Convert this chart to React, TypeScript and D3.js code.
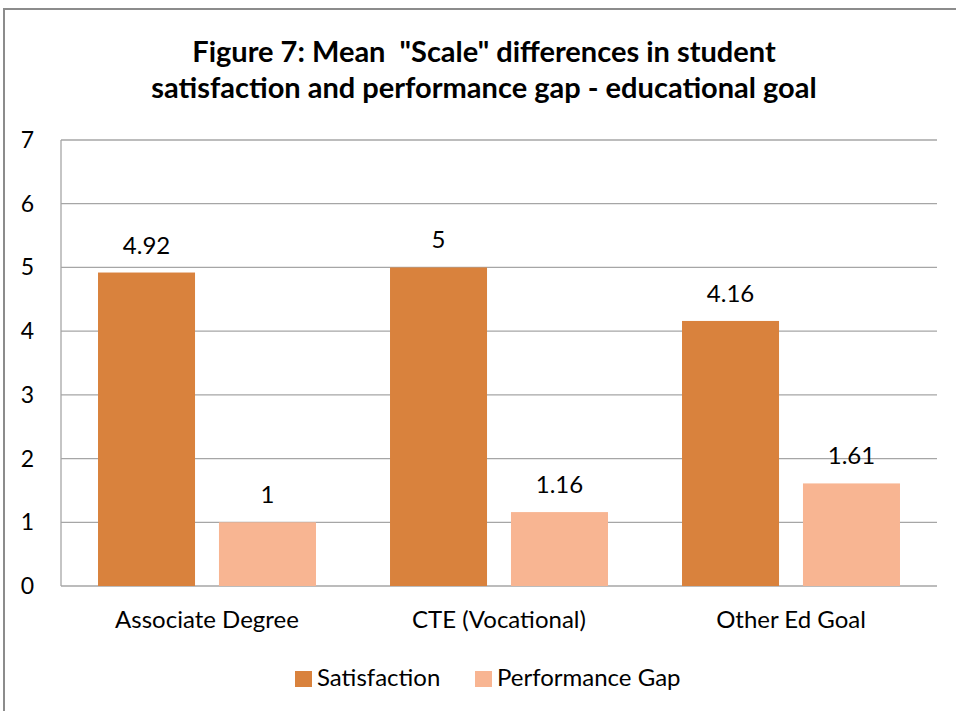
import React from "react";
import * as d3 from "d3";

const categories = ["Associate Degree", "CTE (Vocational)", "Other Ed Goal"];
const seriesNames = ["Satisfaction", "Performance Gap"];
const satisfaction = [4.92, 5, 4.16];
const performanceGap = [1, 1.16, 1.61];
const yTicks = [0, 1, 2, 3, 4, 5, 6, 7];
const titleLines = [
  'Figure 7: Mean  "Scale" differences in student',
  "satisfaction and performance gap - educational goal",
];

const colors = ["#D9823D", "#F8B592"];
const FONT = "Lato, 'Open Sans', sans-serif";

export default function App() {
  const W = 956, H = 711;
  const left = 61, right = 937, top = 140, bottom = 586;
  const x0 = d3.scaleBand<string>().domain(categories).range([left, right]).paddingInner(0).paddingOuter(0);
  const x1 = d3.scaleBand<string>().domain(seriesNames).range([0, x0.bandwidth()]).paddingInner(0.198).paddingOuter(0.306);
  const y = d3.scaleLinear().domain([0, 7]).range([bottom, top]);
  const series = [satisfaction, performanceGap];

  return (
    <svg width={W} height={H} style={{ position: "absolute", left: 0, top: 0, background: "#fff" }}>
      <rect x={4} y={9} width={W + 10} height={H + 10} fill="#fff" stroke="#8c8c8c" strokeWidth={2} />
      {titleLines.map((t, i) => (
        <text key={i} x={484} y={62 + i * 36} textAnchor="middle" fontFamily={FONT} fontWeight="bold" fontSize={29} fill="#000" style={{ whiteSpace: "pre" }}>
          {t}
        </text>
      ))}
      {yTicks.map((t) => (
        <g key={t}>
          <line x1={left} x2={right} y1={y(t)} y2={y(t)} stroke="#a6a6a6" strokeWidth={1.3} />
          <text x={34} y={y(t) + 8} textAnchor="end" fontFamily={FONT} fontSize={23} fill="#000">{t}</text>
        </g>
      ))}
      <line x1={left} x2={left} y1={top} y2={bottom} stroke="#a6a6a6" strokeWidth={1.3} />
      {categories.map((c, ci) => (
        <g key={c}>
          {series.map((s, si) => {
            const bx = (x0(c) as number) + (x1(seriesNames[si]) as number);
            const bw = x1.bandwidth();
            return (
              <g key={si}>
                <rect x={bx} y={y(s[ci])} width={bw} height={bottom - y(s[ci])} fill={colors[si]} />
                <text x={bx + bw / 2} y={y(s[ci]) - 19} textAnchor="middle" fontFamily={FONT} fontSize={24} fill="#000">
                  {String(s[ci])}
                </text>
              </g>
            );
          })}
          <text x={(x0(c) as number) + x0.bandwidth() / 2} y={628} textAnchor="middle" fontFamily={FONT} fontSize={24} fill="#000">
            {c}
          </text>
        </g>
      ))}
      {seriesNames.map((n, i) => {
        const lx = [295, 475][i];
        return (
          <g key={n}>
            <rect x={lx} y={671} width={17} height={16} fill={colors[i]} />
            <text x={lx + 22} y={686} fontFamily={FONT} fontSize={24} fill="#000">{n}</text>
          </g>
        );
      })}
    </svg>
  );
}
